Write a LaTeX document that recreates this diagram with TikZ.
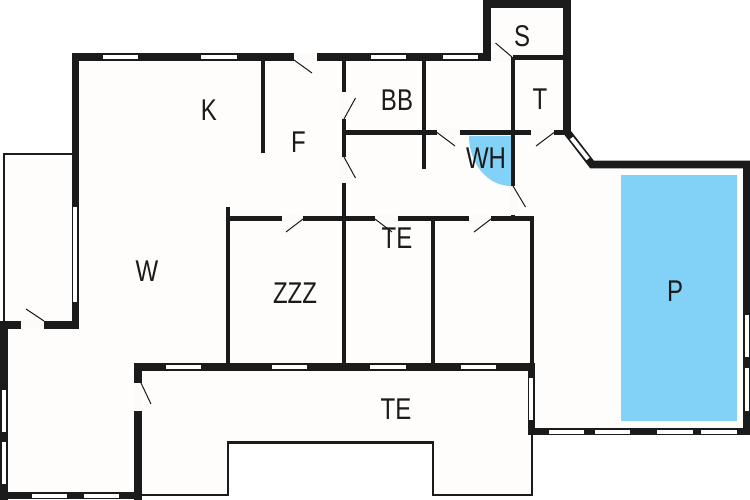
\documentclass[tikz,border=0pt]{standalone}
\usepackage{fontspec}
\setmainfont[FakeStretch=0.8]{Liberation Sans}
\definecolor{wallcol}{HTML}{1C1B1B}
\definecolor{poolcol}{HTML}{82D2F7}
\definecolor{floorcol}{HTML}{FEFDFB}
\definecolor{gapcol}{HTML}{FCFBF9}
\tikzset{
	outerwall/.style={draw=wallcol, line width=7.6pt},
	innerwall/.style={draw=wallcol, line width=4.2pt},
	thinwall/.style={draw=wallcol, line width=2.2pt},
	glass/.style={draw=white, line width=4pt},
	gap/.style={draw=gapcol, line width=8.4pt},
	leaf/.style={draw=wallcol, line width=1pt},
	roomlabel/.style={font=\fontsize{30}{30}\selectfont, text=wallcol, inner sep=0pt},
}
\begin{document}
\begin{tikzpicture}[x=1pt, y=-1pt]
	\useasboundingbox (0,0) rectangle (750,500);
	% Floor and water:
	\fill[floorcol] (4,154) -- (75,154) -- (75,57) -- (487,57) -- (487,4) -- (567,4) -- (567,132) -- (593,164) -- (746,164) -- (746,431) -- (532,431) -- (532,495) -- (433,495) -- (433,442) -- (228,442) -- (228,495) -- (4,495) -- cycle;
	\fill[poolcol] (621,175) rectangle (737,420.5);
	\fill[poolcol] (469,136) -- (511,136) -- (511,186) arc (90:180:42 and 50) -- cycle;
	% Thin outlines:
	\draw[thinwall] (4,322) -- (4,154) -- (74,154);
	\draw[thinwall] (141,495) -- (228,495) -- (228,442.5) -- (433,442.5) -- (433,495) -- (532,495) -- (532,433);
	% Outer walls:
	\draw[outerwall] (4,499.5) -- (4,324.7) -- (75.3,324.7) -- (75.3,57) -- (487,57);
	\draw[outerwall] (0.5,495.5) -- (141,495.5);
	\draw[outerwall] (138,499.5) -- (138,367) -- (534.5,367);
	\draw[outerwall] (487,61) -- (487,4) -- (567,4) -- (567,132) -- (592,164.5) -- (750,164.5);
	\draw[outerwall] (746.5,161) -- (746.5,435);
	\draw[outerwall] (750,431.5) -- (531.3,431.5) -- (531.3,363);
	% Inner walls:
	\draw[innerwall] (263,57) -- (263,153);
	\draw[innerwall] (344,57) -- (344,365);
	\draw[innerwall] (424,57) -- (424,169);
	\draw[innerwall] (513,57) -- (513,219);
	\draw[innerwall] (513,57.5) -- (566,57.5);
	\draw[innerwall] (344,132.5) -- (566,132.5);
	\draw[innerwall] (228,207) -- (228,365);
	\draw[innerwall] (433,218) -- (433,365);
	\draw[innerwall] (228,218.5) -- (532,218.5) -- (532,365);
	% Door openings:
	\draw[gap] (294,57) -- (316.5,57);
	\draw[gap] (490.8,57.5) -- (511,57.5);
	\draw[gap] (21,324.7) -- (44,324.7);
	\draw[gap] (138,383) -- (138,411);
	\draw[gap] (344,92) -- (344,119);
	\draw[gap] (344,157) -- (344,183);
	\draw[gap] (513,186) -- (513,215);
	\draw[gap] (437,132.5) -- (460,132.5);
	\draw[gap] (531,132.5) -- (554,132.5);
	\draw[gap] (282,218.5) -- (303,218.5);
	\draw[gap] (375,218.5) -- (398,218.5);
	\draw[gap] (469,218.5) -- (491,218.5);
	% Door leaves:
	\draw[leaf] (294,60) -- (312,73);
	\draw[leaf] (512,57) -- (495.5,43);
	\draw[leaf] (44,321) -- (26,309);
	\draw[leaf] (141,383) -- (151,404);
	\draw[leaf] (344,119) -- (355.5,98);
	\draw[leaf] (344,157) -- (355.5,178);
	\draw[leaf] (513,186) -- (525.5,207);
	\draw[leaf] (437,132.5) -- (455,146);
	\draw[leaf] (554,132.5) -- (536,146);
	\draw[leaf] (303,219) -- (286,232);
	\draw[leaf] (375,219) -- (392,232);
	\draw[leaf] (491,219) -- (474,232);
	% Windows:
	\draw[glass] (103,57) -- (138,57);
	\draw[glass] (201,57) -- (237,57);
	\draw[glass] (370.5,57) -- (405.5,57);
	\draw[glass] (443,57) -- (477.5,57);
	\draw[glass] (75.3,207) -- (75.3,302);
	\draw[glass] (4,390) -- (4,432);
	\draw[glass] (4,442) -- (4,484);
	\draw[glass] (32,495.5) -- (67,495.5);
	\draw[glass] (84,495.5) -- (119,495.5);
	\draw[glass] (166,367) -- (201,367);
	\draw[glass] (272,367) -- (307,367);
	\draw[glass] (370.3,367) -- (405.7,367);
	\draw[glass] (460.7,367) -- (496,367);
	\draw[glass] (531.3,378) -- (531.3,420);
	\draw[glass] (549,431.5) -- (584,431.5);
	\draw[glass] (595,431.5) -- (630,431.5);
	\draw[glass] (657,431.5) -- (692.5,431.5);
	\draw[glass] (701,431.5) -- (736.5,431.5);
	\draw[glass] (746.5,315) -- (746.5,356.5);
	\draw[glass] (746.5,368) -- (746.5,410.5);
	\draw[glass] (571.5,138) -- (588,159);
	% Room labels:
	\node[roomlabel] (kitchen) at (209,110) {K};
	\node[roomlabel] (hall) at (298.5,142) {F};
	\node[roomlabel] (bath) at (397,100) {BB};
	\node[roomlabel] (store) at (522,36) {S};
	\node[roomlabel] (toilet) at (540,99) {T};
	\node[roomlabel] (utility) at (486,158) {WH};
	\node[roomlabel] (bedroom) at (397,238) {TE};
	\node[roomlabel] (living) at (147,271) {W};
	\node[roomlabel] (sleep) at (295,293) {ZZZ};
	\node[roomlabel] (pool) at (675,291) {P};
	\node[roomlabel] (terrace) at (396,409.5) {TE};
\end{tikzpicture}
\end{document}
